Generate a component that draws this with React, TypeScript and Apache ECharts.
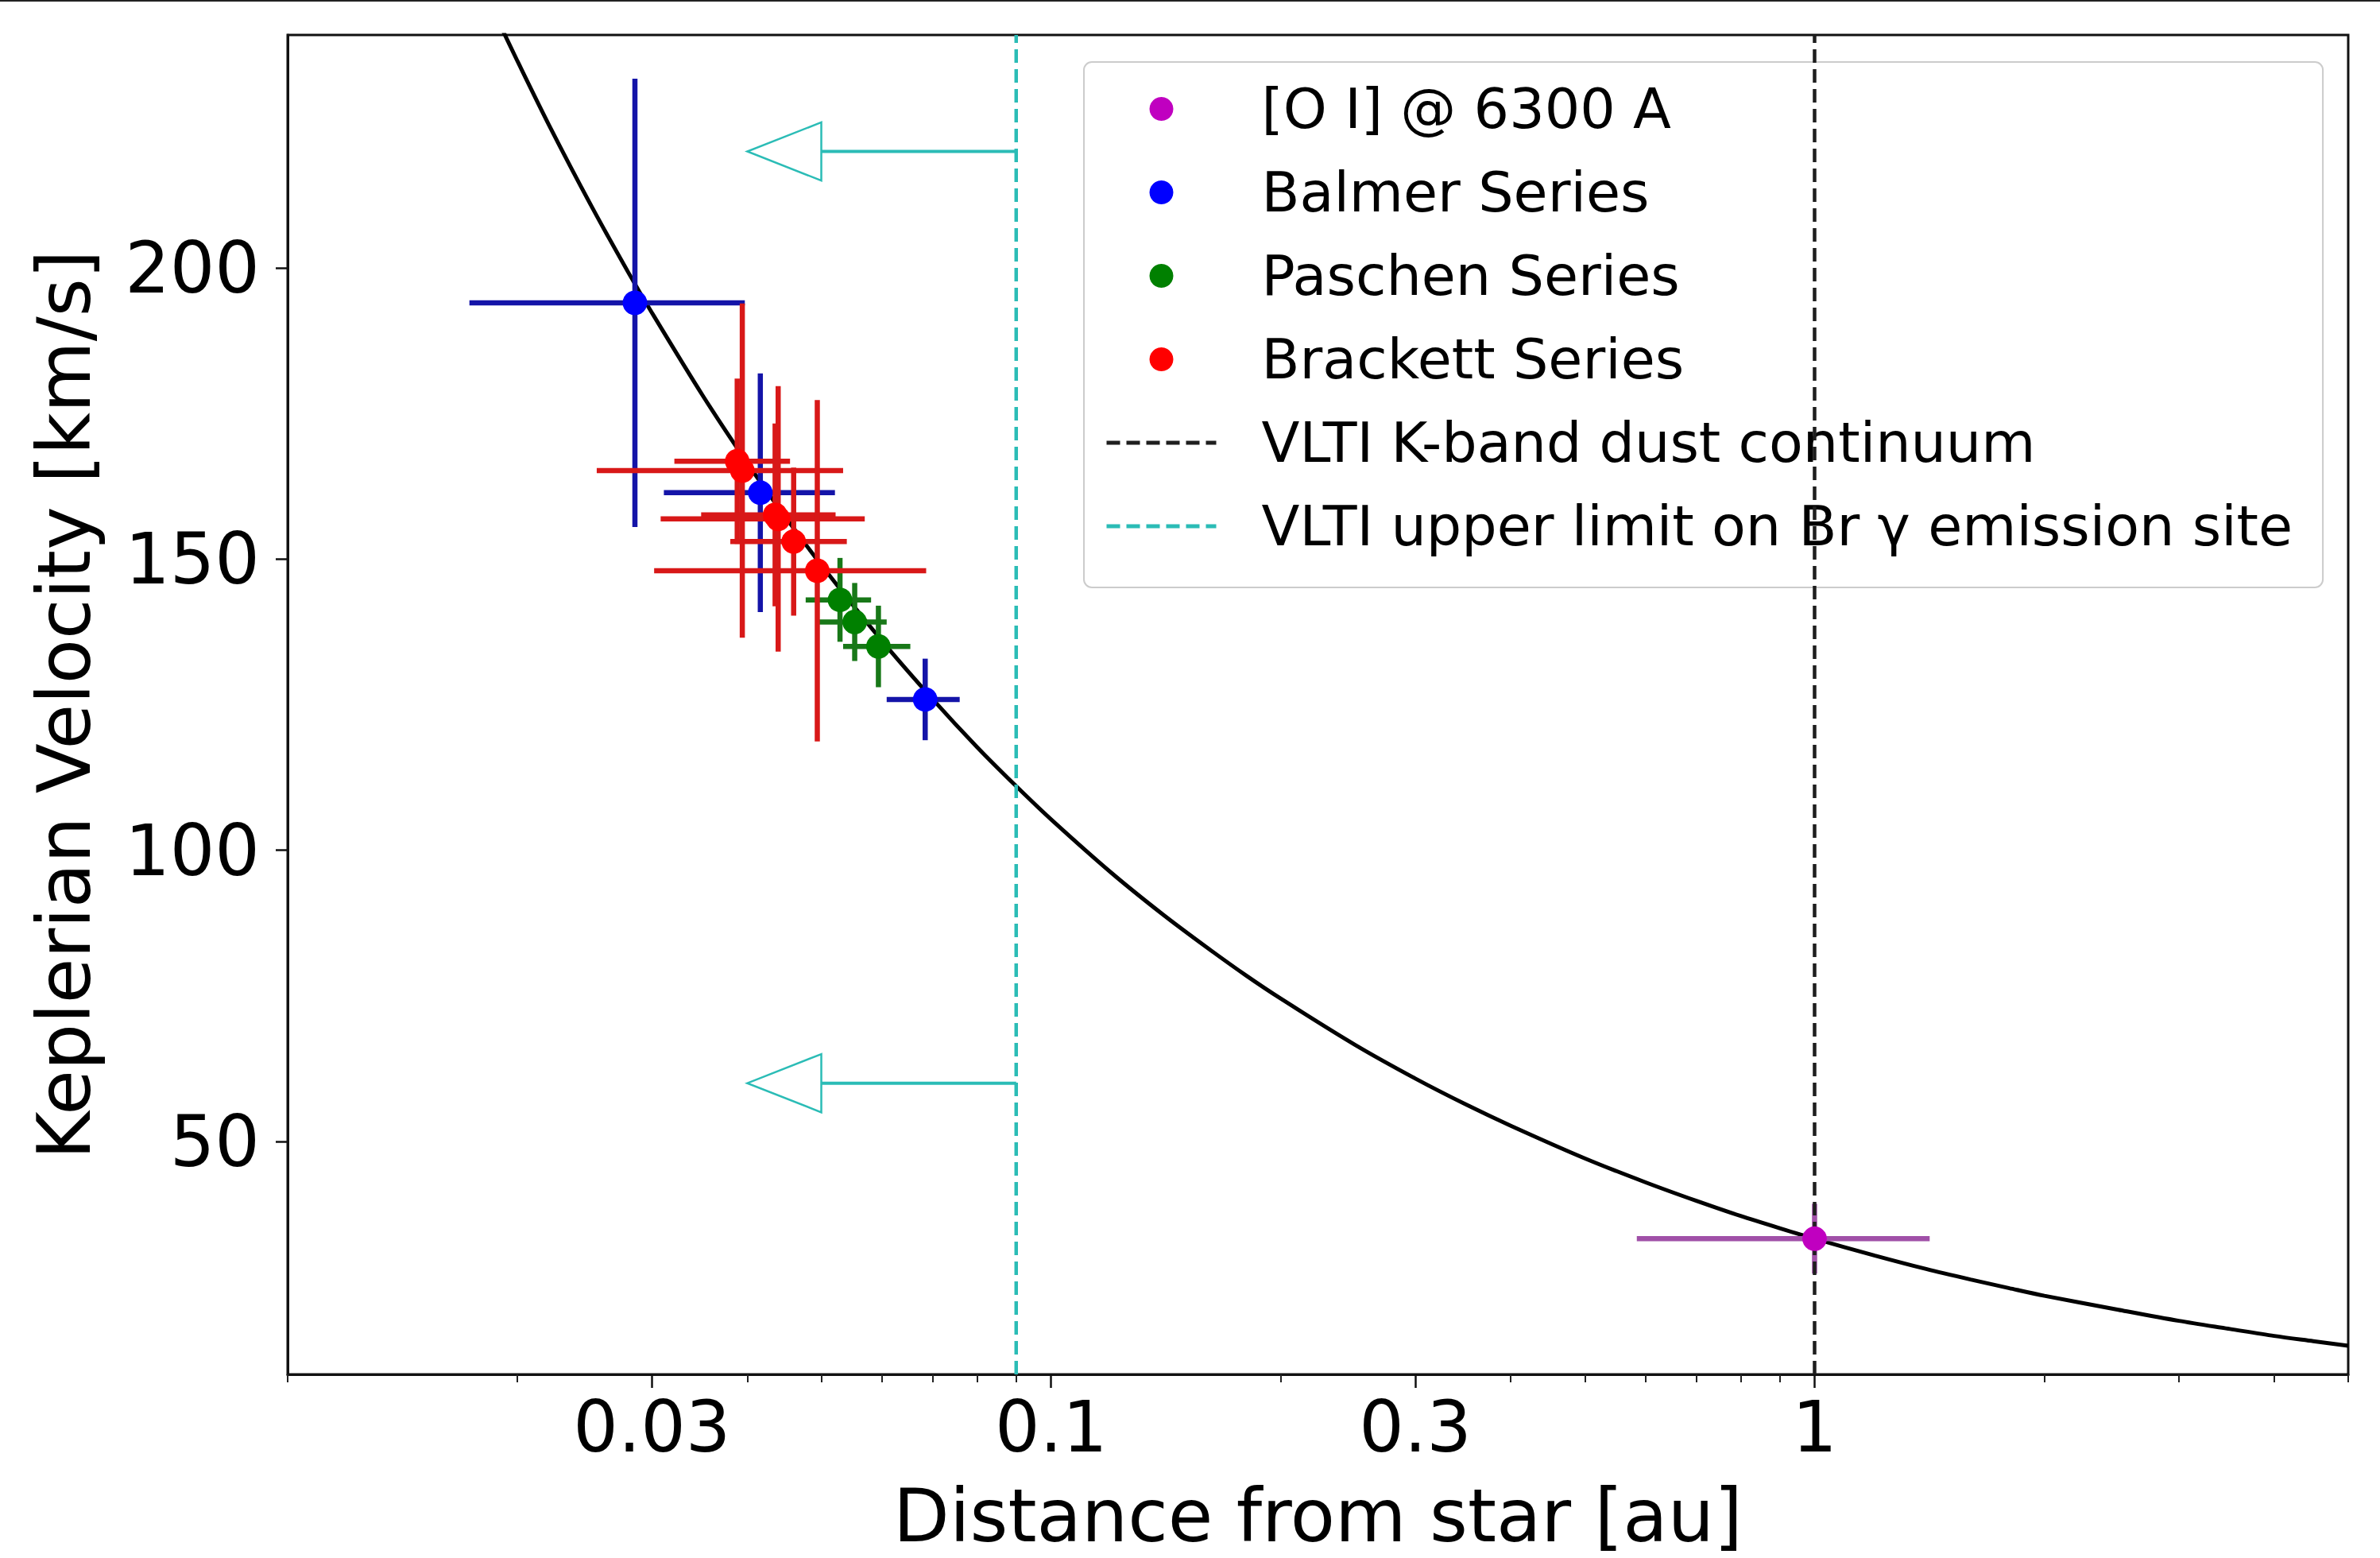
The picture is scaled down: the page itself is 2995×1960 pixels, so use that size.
import React, { useEffect, useRef } from "react";
import * as echarts from "echarts";

const FONT = "DejaVu Sans";

// ---- axis setup ----
const xMin = 0.01;
const xMax = 5;
const yMin = 10;
const yMax = 240;
const xMajorTicks = [0.03, 0.1, 0.3, 1];
const xMinorTicks = [0.01, 0.02, 0.04, 0.05, 0.06, 0.07, 0.08, 0.09, 0.2, 0.4, 0.5, 0.6, 0.7, 0.8, 0.9, 2, 3, 4, 5];
const yTicks = [50, 100, 150, 200];

// ---- Keplerian curve ----
const curveR = [
  0.018, 0.019, 0.02, 0.022, 0.025, 0.028, 0.03, 0.035, 0.04, 0.045, 0.05, 0.06, 0.07, 0.08, 0.09, 0.1,
  0.12, 0.14, 0.16, 0.18, 0.2, 0.25, 0.3, 0.35, 0.4, 0.5, 0.6, 0.7, 0.8, 0.9, 1, 1.2, 1.4, 1.6, 1.8, 2,
  2.5, 3, 3.5, 4, 4.5, 5,
];
const curveV = [
  248, 241.6, 235.5, 224.5, 210.6, 199, 192.3, 178, 166.5, 157, 149, 136, 125.9, 117.7, 111, 105.3,
  96.1, 89, 83.3, 78.5, 74.5, 66.6, 60.8, 56.3, 52.7, 47.1, 43, 39.8, 37.2, 35.1, 33.3, 30.4, 28.1, 26.3, 24.8, 23.5,
  21.1, 19.2, 17.8, 16.6, 15.7, 14.9,
];

// ---- measurements ----
const oiR = [1.0];
const oiRErr = [0.415];
const oiV = [33.3];
const oiVErr = [6];

const balmerR = [0.0285, 0.0416, 0.0684];
const balmerRErr = [0.0112, 0.0105, 0.0075];
const balmerV = [194, 161.4, 125.9];
const balmerVErr = [38.5, 20.5, 7];

const paschenR = [0.0529, 0.0553, 0.0594];
const paschenRErr = [0.0052, 0.0056, 0.006];
const paschenV = [143, 139.2, 135];
const paschenVErr = [7.2, 6.7, 7];

const brackettR = [0.0394, 0.0388, 0.0439, 0.0435, 0.046, 0.0494];
const brackettRErr = [0.014, 0.0067, 0.0131, 0.0087, 0.008, 0.0192];
const brackettV = [165.2, 166.8, 156.9, 157.6, 153, 148];
const brackettVErr = [28.7, 14.2, 22.8, 15.7, 12.7, 29.3];

// ---- reference lines and arrows ----
const kBandR = 1;
const brGammaLimitR = 0.09;
const arrowV = [220, 60];
const arrowHeadBaseR = 0.05;
const arrowTipR = 0.04;
const arrowHeadHalf = 5;

const NAMES = {
  oi: "[O I] @ 6300 A",
  balmer: "Balmer Series",
  paschen: "Paschen Series",
  brackett: "Brackett Series",
  kband: "VLTI K-band dust continuum",
  brg: "VLTI upper limit on Br \u03b3 emission site",
};

const COLORS = {
  oi: "#c000c0",
  oiBar: "#a050a8",
  balmer: "#0000ff",
  balmerBar: "#1414a8",
  paschen: "#008000",
  paschenBar: "#187818",
  brackett: "#ff0000",
  brackettBar: "#d81818",
  kband: "#1e1e1e",
  cyan: "#2bbcb6",
};

function rows(r: number[], v: number[], re: number[], ve: number[]) {
  return r.map((x, i) => [x, v[i], re[i], ve[i]]);
}

function errRender(color: string) {
  return (params: any, api: any) => {
    const x = api.value(0);
    const y = api.value(1);
    const dx = api.value(2);
    const dy = api.value(3);
    const l = api.coord([x - dx, y]);
    const r = api.coord([x + dx, y]);
    const t = api.coord([x, y + dy]);
    const b = api.coord([x, y - dy]);
    return {
      type: "group",
      children: [
        { type: "line", shape: { x1: l[0], y1: l[1], x2: r[0], y2: r[1] }, style: { stroke: color, lineWidth: 6.5 } },
        { type: "line", shape: { x1: t[0], y1: t[1], x2: b[0], y2: b[1] }, style: { stroke: color, lineWidth: 6.5 } },
      ],
    };
  };
}

function errSeries(data: number[][], color: string) {
  return {
    type: "custom",
    coordinateSystem: "cartesian2d",
    encode: { x: 0, y: 1 },
    data,
    z: 4,
    silent: true,
    renderItem: errRender(color),
  };
}

function dotSeries(name: string, r: number[], v: number[], color: string) {
  return {
    type: "scatter",
    name,
    data: r.map((x, i) => [x, v[i]]),
    symbol: "circle",
    symbolSize: 31,
    itemStyle: { color, opacity: 1 },
    z: 6,
    silent: true,
  };
}

const arrowRender = (params: any, api: any) => {
  const from = api.value(0);
  const y = api.value(1);
  const base = api.value(2);
  const tip = api.value(3);
  const half = api.value(4);
  const p0 = api.coord([from, y]);
  const p1 = api.coord([base, y]);
  const hTop = api.coord([base, y + half]);
  const hBot = api.coord([base, y - half]);
  const hTip = api.coord([tip, y]);
  return {
    type: "group",
    children: [
      { type: "line", shape: { x1: p0[0], y1: p0[1], x2: p1[0], y2: p1[1] }, style: { stroke: COLORS.cyan, lineWidth: 4 } },
      {
        type: "polygon",
        shape: { points: [hTop, hTip, hBot] },
        style: { stroke: COLORS.cyan, lineWidth: 2.5, fill: "rgba(255,255,255,0)" },
      },
    ],
  };
};

const fmtX = (v: any) => String(+Number(v).toPrecision(4));

const option: any = {
  animation: false,
  backgroundColor: "#ffffff",
  grid: {
    left: 362,
    right: 40,
    top: 44,
    bottom: 231,
    containLabel: false,
    outerBoundsMode: "none",
    show: true,
    borderColor: "#111111",
    borderWidth: 3,
    backgroundColor: "rgba(0,0,0,0)",
  },
  graphic: [
    { type: "rect", left: 0, top: 0, shape: { width: 2995, height: 2 }, style: { fill: "#222222" }, silent: true },
  ],
  xAxis: [
    {
      type: "log",
      logBase: 10,
      min: xMin,
      max: xMax,
      position: "bottom",
      name: "Distance from star [au]",
      nameLocation: "middle",
      nameGap: 132,
      nameMoveOverlap: false,
      nameTextStyle: { fontFamily: FONT, fontSize: 92, color: "#000" },
      axisLine: { show: true, onZero: false, lineStyle: { color: "#111", width: 3 } },
      axisTick: { show: true, customValues: xMajorTicks, length: 17, lineStyle: { color: "#111", width: 2.5 } },
      axisLabel: {
        show: true,
        customValues: xMajorTicks,
        margin: 21,
        fontFamily: FONT,
        fontSize: 89,
        color: "#000",
        formatter: fmtX,
      },
      splitLine: { show: false },
      minorTick: { show: false },
      minorSplitLine: { show: false },
    },
    {
      type: "log",
      logBase: 10,
      min: xMin,
      max: xMax,
      position: "bottom",
      axisLine: { show: false },
      axisTick: { show: true, customValues: xMinorTicks, length: 10, lineStyle: { color: "#222", width: 2 } },
      axisLabel: { show: false },
      splitLine: { show: false },
      minorTick: { show: false },
    },
  ],
  yAxis: {
    type: "value",
    min: yMin,
    max: yMax,
    name: "Keplerian Velocity [km/s]",
    nameLocation: "middle",
    nameGap: 235,
    nameMoveOverlap: false,
    nameTextStyle: { fontFamily: FONT, fontSize: 92, color: "#000" },
    axisLine: { show: true, onZero: false, lineStyle: { color: "#111", width: 3 } },
    axisTick: { show: true, customValues: yTicks, length: 15, lineStyle: { color: "#111", width: 2.5 } },
    axisLabel: { show: true, customValues: yTicks, margin: 35, fontFamily: FONT, fontSize: 89, color: "#000" },
    splitLine: { show: false },
  },
  legend: {
    orient: "vertical",
    left: 1364,
    top: 78,
    padding: [24, 38, 42, 26],
    itemWidth: 138,
    itemHeight: 30,
    itemGap: 35,
    selectedMode: false,
    backgroundColor: "rgba(255,255,255,0.8)",
    borderColor: "#cccccc",
    borderWidth: 2,
    borderRadius: 10,
    lineStyle: { width: 5 },
    textStyle: { fontFamily: FONT, fontSize: 70, color: "#000", lineHeight: 70, padding: [0, 0, 0, 52] },
    data: [
      { name: NAMES.oi, icon: "circle" },
      { name: NAMES.balmer, icon: "circle" },
      { name: NAMES.paschen, icon: "circle" },
      { name: NAMES.brackett, icon: "circle" },
      { name: NAMES.kband, itemStyle: { opacity: 0 } },
      { name: NAMES.brg, itemStyle: { opacity: 0 } },
    ],
  },
  series: [
    {
      type: "line",
      data: curveR.map((r, i) => [r, curveV[i]]),
      smooth: 0.3,
      symbol: "none",
      showSymbol: false,
      clip: true,
      silent: true,
      lineStyle: { color: "#000", width: 5 },
      z: 1,
    },
    {
      type: "line",
      name: NAMES.kband,
      data: [
        [kBandR, yMin],
        [kBandR, yMax],
      ],
      symbol: "none",
      showSymbol: false,
      silent: true,
      itemStyle: { color: COLORS.kband, opacity: 0 },
      lineStyle: { color: COLORS.kband, width: 4.5, type: [17, 8], opacity: 1 },
      z: 5,
    },
    {
      type: "line",
      name: NAMES.brg,
      data: [
        [brGammaLimitR, yMin],
        [brGammaLimitR, yMax],
      ],
      symbol: "none",
      showSymbol: false,
      silent: true,
      itemStyle: { color: COLORS.cyan, opacity: 0 },
      lineStyle: { color: COLORS.cyan, width: 4.5, type: [17, 8], opacity: 1 },
      z: 5,
    },
    {
      type: "custom",
      coordinateSystem: "cartesian2d",
      encode: { x: 0, y: 1 },
      data: arrowV.map((v) => [brGammaLimitR, v, arrowHeadBaseR, arrowTipR, arrowHeadHalf]),
      renderItem: arrowRender,
      silent: true,
      z: 3,
    },
    errSeries(rows(oiR, oiV, oiRErr, oiVErr), COLORS.oiBar),
    errSeries(rows(balmerR, balmerV, balmerRErr, balmerVErr), COLORS.balmerBar),
    errSeries(rows(paschenR, paschenV, paschenRErr, paschenVErr), COLORS.paschenBar),
    errSeries(rows(brackettR, brackettV, brackettRErr, brackettVErr), COLORS.brackettBar),
    dotSeries(NAMES.oi, oiR, oiV, COLORS.oi),
    dotSeries(NAMES.balmer, balmerR, balmerV, COLORS.balmer),
    dotSeries(NAMES.paschen, paschenR, paschenV, COLORS.paschen),
    dotSeries(NAMES.brackett, brackettR, brackettV, COLORS.brackett),
  ],
};

export default function App() {
  const ref = useRef<HTMLDivElement>(null);
  useEffect(() => {
    if (!ref.current) return;
    const chart = echarts.init(ref.current, null, { renderer: "svg" });
    chart.setOption(option);
    return () => chart.dispose();
  }, []);
  return (
    <div
      ref={ref}
      style={{ position: "fixed", left: 0, top: 0, width: 2995, height: 1960, background: "#fff" }}
    />
  );
}
